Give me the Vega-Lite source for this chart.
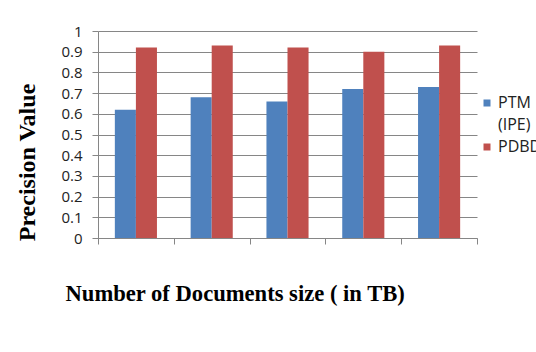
{
  "$schema": "https://vega.github.io/schema/vega-lite/v6.json",
  "autosize": "none",
  "width": 379,
  "height": 207,
  "padding": {"left": 98, "top": 31, "right": 59, "bottom": 114},
  "background": "white",
  "data": {
    "values": [
      {"size": "1", "method": "PTM (IPE)", "precision": 0.62},
      {"size": "1", "method": "PDBD", "precision": 0.92},
      {"size": "2", "method": "PTM (IPE)", "precision": 0.68},
      {"size": "2", "method": "PDBD", "precision": 0.93},
      {"size": "3", "method": "PTM (IPE)", "precision": 0.66},
      {"size": "3", "method": "PDBD", "precision": 0.92},
      {"size": "4", "method": "PTM (IPE)", "precision": 0.72},
      {"size": "4", "method": "PDBD", "precision": 0.90},
      {"size": "5", "method": "PTM (IPE)", "precision": 0.73},
      {"size": "5", "method": "PDBD", "precision": 0.93}
    ]
  },
  "mark": {"type": "bar"},
  "encoding": {
    "x": {
      "field": "size",
      "type": "nominal",
      "scale": {"paddingInner": 0, "paddingOuter": 0},
      "axis": {
        "title": "Number of Documents size ( in TB)",
        "titleFont": "Liberation Serif",
        "titleFontSize": 22.6,
        "titleFontWeight": "bold",
        "titleColor": "#000000",
        "titleAnchor": "start",
        "titleAlign": "left",
        "titleBaseline": "alphabetic",
        "titleX": -33,
        "titleY": 62,
        "labels": false,
        "tickBand": "extent",
        "tickSize": 6,
        "tickColor": "#868686",
        "domainColor": "#868686",
        "grid": false
      }
    },
    "xOffset": {
      "field": "method",
      "type": "nominal",
      "sort": ["PTM (IPE)", "PDBD"],
      "scale": {"paddingInner": 0, "paddingOuter": 0.8}
    },
    "y": {
      "field": "precision",
      "type": "quantitative",
      "scale": {"domain": [0, 1], "nice": false},
      "axis": {
        "title": "Precision Value",
        "titleFont": "Liberation Serif",
        "titleFontSize": 24,
        "titleFontWeight": "bold",
        "titleColor": "#000000",
        "titleAlign": "center",
        "titleBaseline": "alphabetic",
        "titleAngle": 270,
        "titleX": -64,
        "titleY": 131,
        "values": [0, 0.1, 0.2, 0.3, 0.4, 0.5, 0.6, 0.7, 0.8, 0.9, 1],
        "labelExpr": "datum.value == 0 || datum.value == 1 ? format(datum.value, 'd') : format(datum.value, '.1f')",
        "labelFont": "Open Sans",
        "labelFontSize": 15,
        "labelColor": "#222222",
        "labelPadding": 10,
        "tickSize": 6,
        "tickColor": "#868686",
        "domainColor": "#868686",
        "grid": true,
        "gridColor": "#868686",
        "gridWidth": 1
      }
    },
    "color": {
      "field": "method",
      "type": "nominal",
      "sort": ["PTM (IPE)", "PDBD"],
      "scale": {"domain": ["PTM (IPE)", "PDBD"], "range": ["#4F81BD", "#C0504D"]},
      "legend": {
        "title": null,
        "orient": "none",
        "legendX": 381,
        "legendY": 64,
        "symbolType": "square",
        "symbolSize": 49,
        "symbolStrokeWidth": 0,
        "labelFont": "Open Sans",
        "labelFontSize": 16,
        "labelColor": "#222222",
        "labelOffset": 3,
        "labelExpr": "datum.label == 'PTM (IPE)' ? ['PTM', '(IPE)'] : datum.label",
        "rowPadding": 6,
        "padding": 0,
        "encode": {
          "labels": {"update": {"lineHeight": {"value": 22}}}
        }
      }
    }
  },
  "config": {
    "view": {"stroke": null},
    "axis": {"domainWidth": 1, "tickWidth": 1}
  }
}
